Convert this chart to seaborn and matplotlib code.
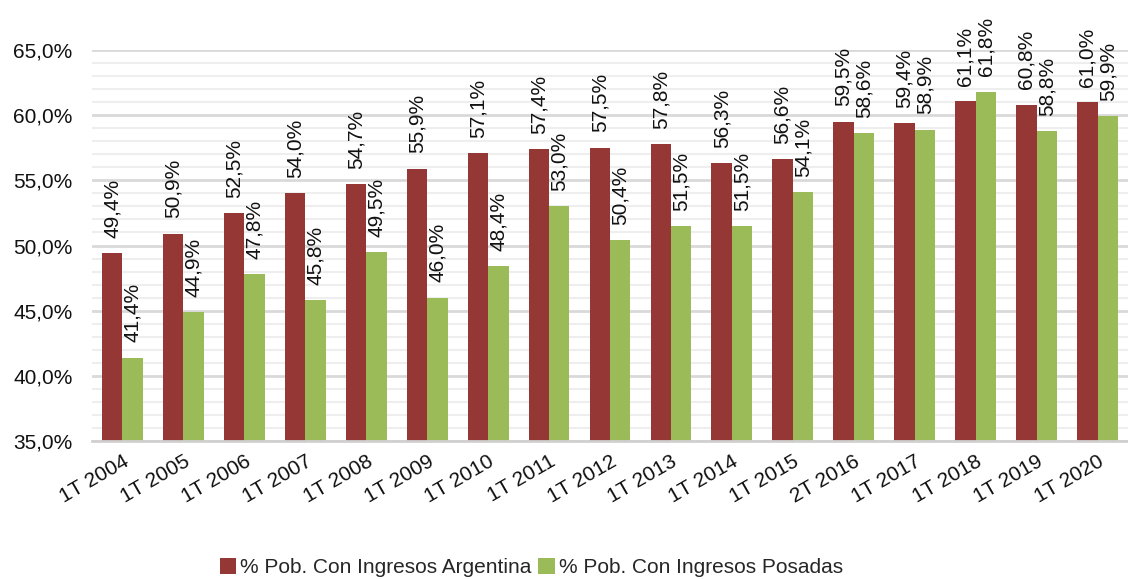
import matplotlib
matplotlib.use("Agg")
import matplotlib.pyplot as plt
from matplotlib.ticker import MultipleLocator, FuncFormatter
import seaborn as sns
import pandas as pd

periods = ["1T 2004", "1T 2005", "1T 2006", "1T 2007", "1T 2008", "1T 2009", "1T 2010",
           "1T 2011", "1T 2012", "1T 2013", "1T 2014", "1T 2015", "2T 2016", "1T 2017",
           "1T 2018", "1T 2019", "1T 2020"]
argentina = [49.4, 50.9, 52.5, 54.0, 54.7, 55.9, 57.1, 57.4, 57.5, 57.8, 56.3, 56.6,
             59.5, 59.4, 61.1, 60.8, 61.0]
posadas = [41.4, 44.9, 47.8, 45.8, 49.5, 46.0, 48.4, 53.0, 50.4, 51.5, 51.5, 54.1,
           58.6, 58.9, 61.8, 58.8, 59.9]
series_names = ["% Pob. Con Ingresos Argentina", "% Pob. Con Ingresos Posadas"]
colors = ["#953735", "#9BBB59"]

df = pd.DataFrame({
    "periodo": periods * 2,
    "valor": argentina + posadas,
    "serie": [series_names[0]] * len(periods) + [series_names[1]] * len(periods),
})

sns.set_theme(style="white")
plt.rcParams["font.family"] = ["Liberation Sans", "DejaVu Sans"]

fig = plt.figure(figsize=(11.28, 5.79), dpi=100)
ax = fig.add_axes([92 / 1128, 1 - 441 / 579, 1 - 92 / 1128, (441 - 50) / 579])

sns.barplot(data=df, x="periodo", y="valor", hue="serie", palette=colors,
            width=0.67, ax=ax, saturation=1, edgecolor="none", linewidth=0)

ax.set_ylim(35, 65)
ax.yaxis.set_major_locator(MultipleLocator(5))
ax.yaxis.set_minor_locator(MultipleLocator(1))
ax.yaxis.set_major_formatter(FuncFormatter(lambda v, p: f"{v:.1f}%".replace(".", ",")))
ax.grid(axis="y", which="major", color="#d9d9d9", linewidth=2)
ax.grid(axis="y", which="minor", color="#eeeeee", linewidth=1.5)
ax.set_axisbelow(True)
for s in ["top", "right", "left"]:
    ax.spines[s].set_visible(False)
ax.spines["bottom"].set_color("#d0d0d0")
ax.spines["bottom"].set_linewidth(2)
ax.set_xlabel("")
ax.set_ylabel("")
ax.tick_params(axis="y", labelsize=15, length=0, pad=14, colors="#111111")
ax.tick_params(axis="x", labelsize=15, length=0, pad=8, colors="#111111")
ax.set_xlim(-0.5, len(periods) - 0.5)
plt.setp(ax.get_xticklabels(), rotation=30, ha="right", rotation_mode="anchor")

for cont, vals in zip(ax.containers, [argentina, posadas]):
    labels = [f"{v:.1f}%".replace(".", ",") for v in vals]
    ax.bar_label(cont, labels=labels, rotation=90, padding=11, fontsize=15,
                 color="#111111", clip_on=False)

leg = ax.legend(loc="lower center", bbox_to_anchor=(0.424, -0.37), ncol=2,
                frameon=False, fontsize=15, handlelength=0.8, handleheight=0.8,
                handletextpad=0.2, columnspacing=0.3, borderaxespad=0)

fig.savefig("out.png", dpi=100)
